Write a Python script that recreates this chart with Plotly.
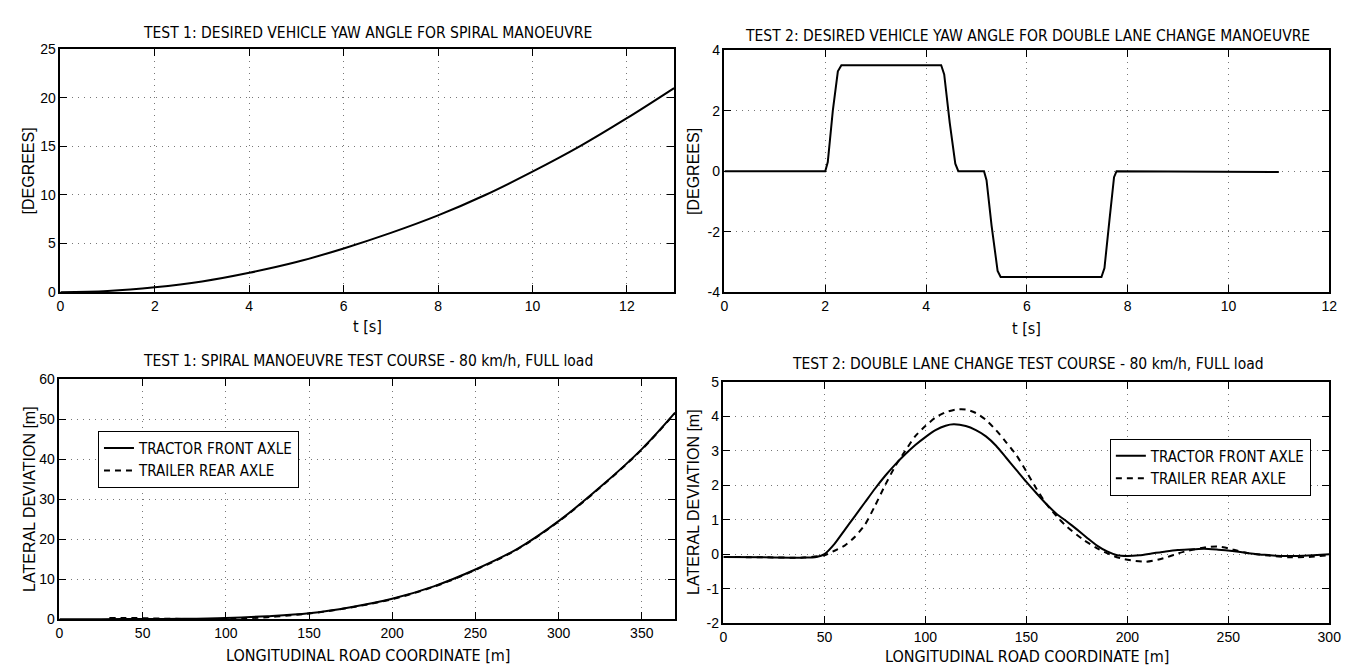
import plotly.graph_objects as go

W, H = 1353, 666

# ---------------- data ----------------
# Test 1: desired yaw angle (spiral)
t1 = [0, 1, 2, 3, 4, 5, 6, 7, 8, 9, 10, 11, 12, 13]
yaw1 = [0.0, 0.12, 0.5, 1.1, 2.0, 3.1, 4.5, 6.1, 7.9, 10.0, 12.4, 15.0, 17.9, 21.0]

# Test 2: desired yaw angle (double lane change)
t2 = [0, 2.0, 2.05, 2.15, 2.25, 2.32, 4.3, 4.36, 4.47, 4.58, 4.64,
      5.15, 5.2, 5.3, 5.42, 5.48, 7.48, 7.54, 7.64, 7.73, 7.78, 11.0]
yaw2 = [0.0, 0.0, 0.3, 2.0, 3.3, 3.5, 3.5, 3.2, 1.6, 0.25, 0.0,
        0.0, -0.3, -1.8, -3.3, -3.5, -3.5, -3.2, -1.6, -0.2, 0.0, -0.03]

# Test 1: spiral test course
x3_front = [0, 25, 50, 75, 100, 125, 150, 175, 200, 225, 250, 275, 300, 325, 350, 370]
y3_front = [0.0, 0.0, 0.05, 0.1, 0.3, 0.75, 1.5, 3.0, 5.1, 8.2, 12.4, 17.5, 24.5, 33.0, 42.5, 51.6]
x3_rear = [30, 40, 50, 60, 75, 90, 100, 110, 125, 140, 150, 175, 200, 225, 250, 275, 300, 325, 350, 370]
y3_rear = [0.3, 0.3, 0.25, 0.15, 0.05, 0.0, 0.1, 0.2, 0.5, 1.0, 1.4, 2.9, 5.0, 8.1, 12.3, 17.4, 24.4, 32.9, 42.4, 51.5]

# Test 2: double lane change test course
x4_front = [0, 20, 40, 46, 50, 55, 60, 65, 70, 75, 80, 85, 90, 95, 100, 105, 110, 114, 120, 125,
            130, 135, 140, 145, 150, 155, 160, 165, 170, 175, 180, 185, 190, 195, 200, 206, 212,
            219, 225, 232, 238, 245, 252, 260, 268, 276, 284, 292, 300]
y4_front = [-0.08, -0.09, -0.1, -0.08, 0.0, 0.3, 0.7, 1.1, 1.5, 1.9, 2.27, 2.6, 2.9, 3.17, 3.4, 3.6,
            3.73, 3.77, 3.72, 3.6, 3.42, 3.15, 2.8, 2.45, 2.1, 1.77, 1.45, 1.17, 0.95, 0.72, 0.48,
            0.25, 0.08, -0.03, -0.05, -0.03, 0.02, 0.08, 0.12, 0.14, 0.16, 0.13, 0.09, 0.03, -0.02,
            -0.05, -0.05, -0.03, 0.0]
x4_rear = [0, 20, 40, 50, 55, 60, 65, 70, 75, 80, 85, 90, 95, 100, 105, 110, 115, 120, 125, 130,
           135, 140, 145, 150, 155, 160, 165, 170, 178, 186, 193, 198, 203, 209, 215, 220, 225,
           230, 240, 245, 250, 255, 260, 270, 280, 290, 300]
y4_rear = [-0.08, -0.09, -0.1, -0.03, 0.1, 0.25, 0.5, 0.85, 1.4, 2.0, 2.55, 3.0, 3.43, 3.72, 3.97,
           4.12, 4.2, 4.2, 4.1, 3.9, 3.6, 3.25, 2.88, 2.4, 1.9, 1.45, 1.1, 0.8, 0.43, 0.14, -0.05,
           -0.14, -0.19, -0.22, -0.16, -0.08, 0.02, 0.1, 0.21, 0.22, 0.17, 0.09, 0.03, -0.04,
           -0.09, -0.08, -0.03]

titles = [
    "TEST 1: DESIRED VEHICLE YAW ANGLE FOR SPIRAL MANOEUVRE",
    "TEST 2: DESIRED VEHICLE YAW ANGLE FOR DOUBLE LANE CHANGE MANOEUVRE",
    "TEST 1: SPIRAL MANOEUVRE TEST COURSE - 80 km/h, FULL load",
    "TEST 2: DOUBLE LANE CHANGE TEST COURSE - 80 km/h, FULL load",
]
xlabels = ["t [s]", "t [s]", "LONGITUDINAL ROAD COORDINATE [m]", "LONGITUDINAL ROAD COORDINATE [m]"]
ylabels = ["[DEGREES]", "[DEGREES]", "LATERAL DEVIATION [m]", "LATERAL DEVIATION [m]"]
legend_names = ["TRACTOR FRONT AXLE", "TRAILER REAR AXLE"]

yticks2 = [-4, -2, 0, 2, 4]
yticks2_text = ["-4", "-2", "0", "2", "4"]
yticks4 = [-2, -1, 0, 1, 2, 3, 4, 5]
yticks4_text = ["-2", "-1", "0", "1", "2", "3", "4", "5"]

# ---------------- layout helpers ----------------
NARROW = "Liberation Sans Narrow, DejaVu Sans Condensed, Arial Narrow, sans-serif"
REG = "Liberation Sans, Arial, Helvetica, sans-serif"

# pixel boxes (left, right, top, bottom)
boxes = [
    (49, 670, 34, 283),
    (721, 1333, 35, 283),
    (48, 671, 372, 618),
    (720, 1333, 375, 622),
]

def xd(a, b):
    return [a / W, b / W]

def yd(top, bot):
    return [1 - bot / H, 1 - top / H]

fig = go.Figure()

DASH = "6px,5px"
fig.add_trace(go.Scatter(x=t1, y=yaw1, mode="lines", line=dict(color="black", width=2, shape="spline"),
                         xaxis="x", yaxis="y", showlegend=False))
fig.add_trace(go.Scatter(x=t2, y=yaw2, mode="lines", line=dict(color="black", width=2),
                         xaxis="x2", yaxis="y2", showlegend=False))
fig.add_trace(go.Scatter(x=x3_front, y=y3_front, mode="lines", name=legend_names[0],
                         line=dict(color="black", width=2, shape="spline"),
                         xaxis="x3", yaxis="y3", legend="legend"))
fig.add_trace(go.Scatter(x=x3_rear, y=y3_rear, mode="lines", name=legend_names[1],
                         line=dict(color="black", width=2, dash=DASH, shape="spline"),
                         xaxis="x3", yaxis="y3", legend="legend"))
fig.add_trace(go.Scatter(x=x4_front, y=y4_front, mode="lines", name=legend_names[0],
                         line=dict(color="black", width=2, shape="spline", smoothing=0.6),
                         xaxis="x4", yaxis="y4", legend="legend2"))
fig.add_trace(go.Scatter(x=x4_rear, y=y4_rear, mode="lines", name=legend_names[1],
                         line=dict(color="black", width=2, dash=DASH, shape="spline", smoothing=0.6),
                         xaxis="x4", yaxis="y4", legend="legend2"))

common = dict(
    showline=True, linecolor="black", linewidth=1.5, mirror="ticks",
    ticks="inside", ticklen=7, tickcolor="black", tickwidth=1,
    showgrid=True, gridcolor="#777", gridwidth=1, griddash="1px,5px",
    zeroline=False, tickfont=dict(family=REG, size=14, color="black"),
    fixedrange=True,
)

xranges = [[0, 13], [0, 12], [0, 370], [0, 300]]
xdticks = [2, 2, 50, 50]
yranges = [[0, 25], [-4, 4], [0, 60], [-2, 5]]

layout = dict(
    width=W, height=H, margin=dict(l=0, r=0, t=0, b=0),
    paper_bgcolor="white", plot_bgcolor="white",
    font=dict(family=NARROW, color="black"),
)
for i in range(4):
    sfx = "" if i == 0 else str(i + 1)
    l, r, t, b = boxes[i]
    xa = dict(common, domain=xd(l, r), range=xranges[i], dtick=xdticks[i], tick0=0,
              anchor="y" + sfx)
    ya = dict(common, domain=yd(t, b), range=yranges[i], anchor="x" + sfx)
    if i == 0:
        ya.update(dtick=5, tick0=0)
    elif i == 1:
        ya.update(tickmode="array", tickvals=yticks2, ticktext=yticks2_text)
    elif i == 2:
        ya.update(dtick=10, tick0=0)
    else:
        ya.update(tickmode="array", tickvals=yticks4, ticktext=yticks4_text)
    layout["xaxis" + sfx] = xa
    layout["yaxis" + sfx] = ya

legend_style = dict(
    bgcolor="white", bordercolor="black", borderwidth=1,
    font=dict(family=NARROW, size=15, color="black"),
    xanchor="left", yanchor="top", itemwidth=30, tracegroupgap=0,
)
layout["legend"] = dict(legend_style, x=87 / W, y=1 - 425 / H)
layout["legend2"] = dict(legend_style, x=1111 / W, y=1 - 433 / H)

fig.update_layout(**layout)

# texts
title_pos = [(359.5, 17.5), (1028, 20), (360, 354), (1028, 357)]
xlab_pos = [(359.5, 318), (1027, 320), (360, 655), (1027, 656)]
ylab_pos = [(17, 158.5), (689, 159), (17, 495), (689, 498)]
ann = []
for i in range(4):
    ann.append(dict(text=titles[i], x=title_pos[i][0] / W, y=1 - title_pos[i][1] / H,
                    xref="paper", yref="paper", showarrow=False, xanchor="center", yanchor="middle",
                    font=dict(family=NARROW, size=15.5, color="black")))
    ann.append(dict(text=xlabels[i], x=xlab_pos[i][0] / W, y=1 - xlab_pos[i][1] / H,
                    xref="paper", yref="paper", showarrow=False, xanchor="center", yanchor="middle",
                    font=dict(family=NARROW, size=16, color="black")))
    ann.append(dict(text=ylabels[i], x=ylab_pos[i][0] / W, y=1 - ylab_pos[i][1] / H,
                    xref="paper", yref="paper", showarrow=False, xanchor="center", yanchor="middle",
                    textangle=-90, font=dict(family=REG, size=16, color="black")))
fig.update_layout(annotations=ann)

fig.write_html("out.html", config={"displayModeBar": False})
